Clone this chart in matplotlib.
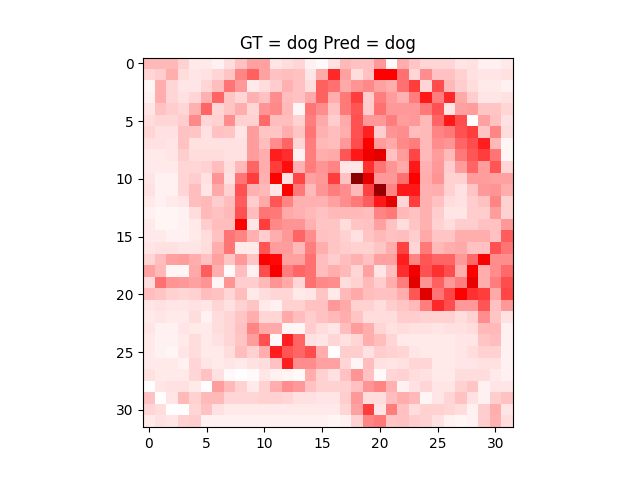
import numpy as np
import matplotlib
matplotlib.use("Agg")
import matplotlib.pyplot as plt

# saliency values, 0 = white, 50 = pure red, 100 = darkest
gt_label = "dog"
pred_label = "dog"
saliency = [
    [14,14,14,9,4,4,3,7,12,18,18,5,7,8,3,1,6,14,12,12,20,1,16,11,8,8,8,5,6,3,3,4],
    [8,10,16,7,5,6,8,11,24,31,18,12,13,12,5,17,42,18,7,12,50,50,28,8,22,12,12,9,6,5,5,6],
    [2,16,8,5,5,8,13,27,20,4,7,10,15,12,7,31,28,17,21,23,18,16,28,38,8,35,14,10,7,4,4,3],
    [3,16,8,6,8,15,30,11,8,15,12,22,13,12,17,31,16,26,38,10,25,19,15,25,45,25,42,17,10,5,5,6],
    [5,12,10,8,15,30,8,11,16,8,21,23,14,2,27,22,12,26,33,10,28,20,20,20,26,34,5,18,19,11,11,8],
    [7,8,8,10,23,8,9,22,9,9,29,13,13,9,25,17,10,17,34,20,20,25,19,20,14,30,45,35,0,18,12,6],
    [8,6,6,12,11,6,12,11,5,19,11,11,16,11,27,15,13,16,34,43,10,21,22,13,14,24,26,34,38,11,24,7],
    [6,6,5,12,6,6,6,6,6,19,13,22,30,8,25,14,13,20,35,50,19,17,23,25,14,22,21,30,35,44,14,2],
    [4,4,5,10,7,7,7,6,6,19,16,44,41,3,25,16,17,33,45,55,60,12,19,36,14,19,14,26,33,38,27,2],
    [4,4,4,8,8,9,13,7,14,30,16,38,47,15,25,21,24,5,5,40,27,21,17,45,15,20,10,19,30,19,33,8],
    [5,3,3,8,10,6,21,6,27,38,15,50,6,36,18,20,38,12,95,60,20,20,28,50,16,21,9,9,19,19,18,18],
    [6,3,3,8,13,5,17,9,34,15,14,5,50,26,14,21,25,22,14,37,90,24,45,45,15,16,9,6,11,20,21,16],
    [4,3,4,5,13,14,10,13,32,10,17,33,24,15,15,15,18,22,26,32,45,60,8,38,15,12,7,6,10,12,24,9],
    [3,2,2,3,7,14,12,14,34,13,27,26,17,15,14,12,14,14,14,13,24,26,14,12,15,10,5,5,10,10,19,9],
    [4,2,2,3,4,10,13,13,50,5,38,23,21,21,15,11,11,7,11,12,18,12,7,11,15,9,7,10,10,12,12,20],
    [4,4,3,3,4,7,12,27,24,15,10,16,20,30,22,12,11,9,6,11,14,12,13,10,17,11,11,16,16,16,12,32],
    [5,6,6,5,5,7,16,27,4,4,33,19,19,14,25,16,11,10,9,9,11,16,37,8,26,14,16,17,12,12,34,27],
    [8,13,18,19,16,12,18,11,20,11,50,48,18,18,28,13,10,13,15,12,18,18,44,24,33,30,30,20,29,50,22,22],
    [18,14,2,2,17,32,16,1,13,3,35,52,25,30,28,13,16,14,8,18,5,13,41,55,34,40,35,16,50,16,22,29],
    [7,28,21,20,18,21,2,21,10,10,14,21,17,8,28,23,22,7,9,14,10,16,25,60,21,31,20,25,58,16,25,35],
    [13,11,9,8,9,13,12,8,13,4,7,8,8,4,5,11,4,14,17,13,12,12,16,33,62,27,36,50,40,38,17,36],
    [5,6,5,5,6,5,8,6,9,11,4,3,9,9,12,12,20,17,9,9,7,10,11,14,25,42,35,20,20,33,12,20],
    [4,5,4,4,7,3,7,8,11,16,8,8,17,13,10,12,14,16,11,7,7,7,10,10,9,9,9,7,9,22,11,6],
    [5,3,3,5,4,4,7,8,12,24,17,17,2,2,10,7,5,13,19,16,8,6,7,6,6,5,6,6,7,14,14,3],
    [4,3,3,4,7,4,6,8,11,19,34,1,44,30,6,5,8,6,8,16,13,8,4,4,4,4,4,5,5,11,13,3],
    [4,3,2,5,7,4,4,7,13,9,16,44,33,30,35,16,0,10,10,6,10,9,8,5,4,4,4,5,7,9,9,3],
    [4,4,4,3,8,5,4,5,4,6,7,12,44,22,22,18,18,8,2,13,6,5,6,8,8,4,4,5,5,6,6,3],
    [6,4,4,4,8,12,6,1,0,1,5,3,2,1,16,9,6,12,21,12,1,8,9,7,6,4,4,7,7,7,4,3],
    [0,5,6,6,4,0,19,14,9,4,9,16,22,20,12,9,9,9,12,21,24,15,3,6,8,5,5,9,11,3,5,5],
    [12,0,5,14,9,14,14,8,8,8,9,9,8,6,6,5,5,10,20,7,7,13,16,14,2,5,8,12,6,3,10,12],
    [8,7,0,0,8,12,6,4,4,4,4,4,4,4,4,4,4,8,18,38,5,25,12,7,9,9,8,7,3,10,16,5],
    [4,6,5,9,10,3,3,3,3,3,3,3,3,3,3,3,2,3,9,24,26,11,12,10,9,6,3,2,3,10,15,7],
]

fig, ax = plt.subplots(figsize=(6.4, 4.8), dpi=100)
ax.imshow(np.array(saliency), cmap="seismic", vmin=-100, vmax=100)
ax.set_title("GT = " + gt_label + " Pred = " + pred_label)

fig.savefig("out.png", dpi=100)
